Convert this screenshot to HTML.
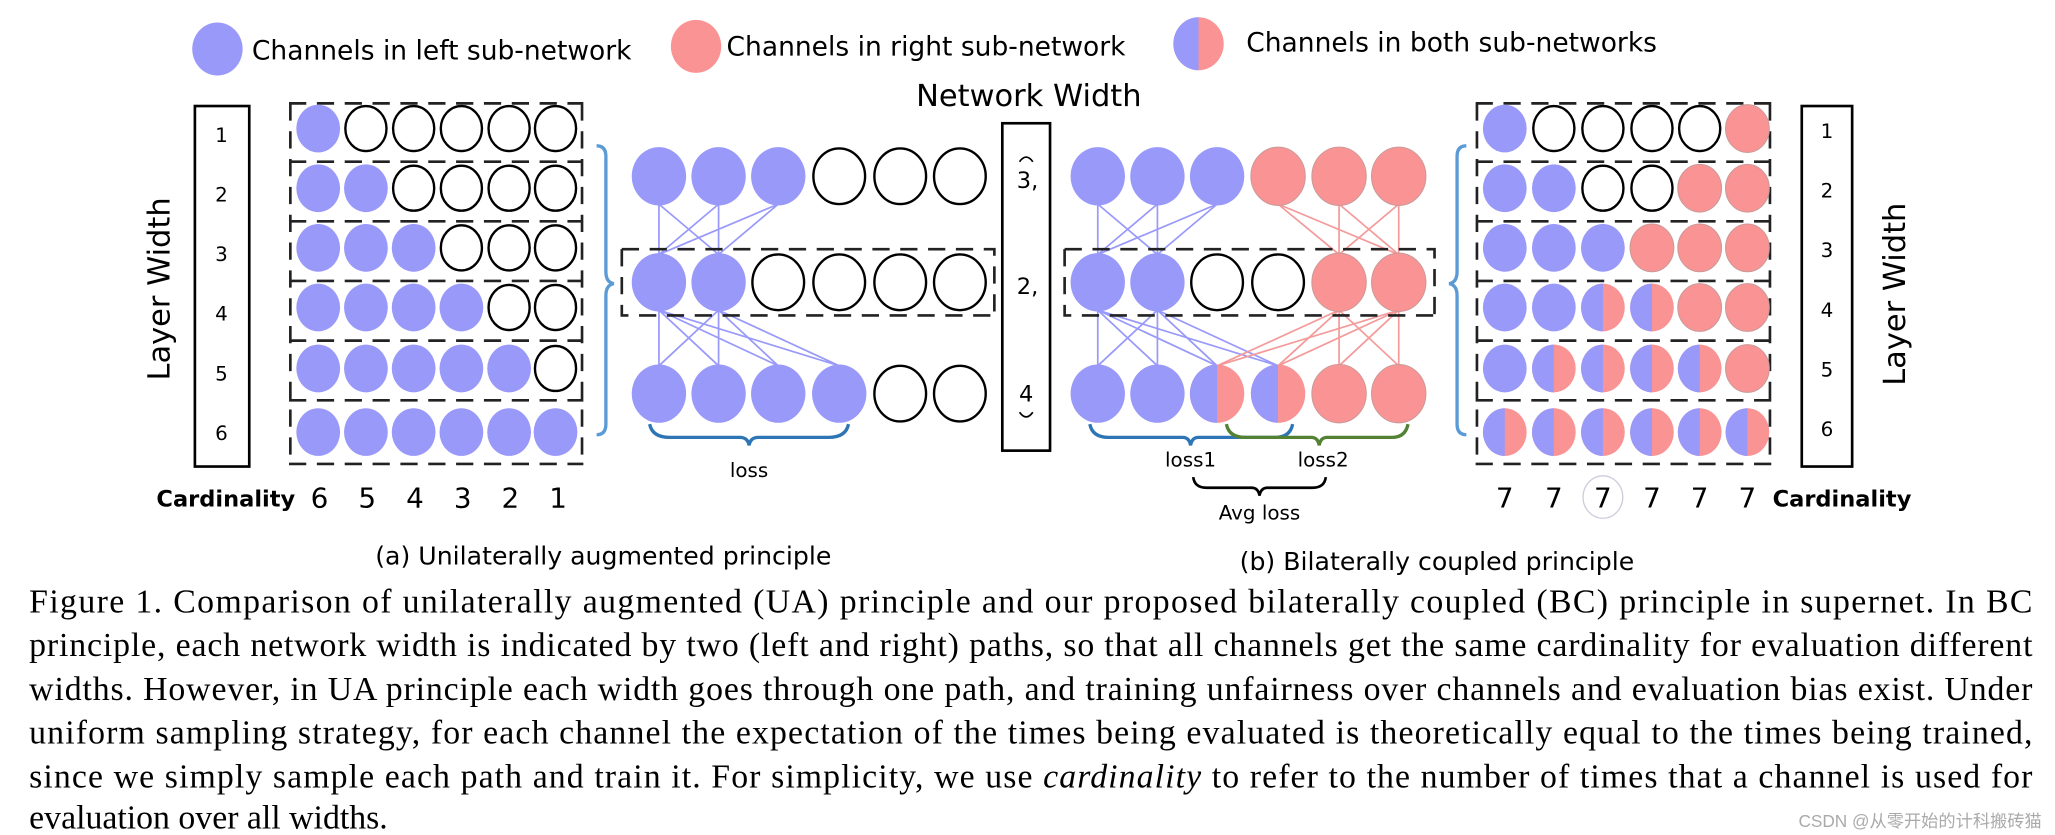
<!DOCTYPE html>
<html><head><meta charset="utf-8"><style>
html,body{margin:0;padding:0;background:#fff;}
svg{display:block;}
.s{font-family:"DejaVu Sans","Liberation Sans",sans-serif;}
.t{font-family:"Liberation Serif",serif;font-size:25.5px;fill:#000;}
</style></head><body>
<svg width="2055" height="835" viewBox="0 0 1550 630" preserveAspectRatio="none" xmlns="http://www.w3.org/2000/svg">
<defs>
<ellipse id="b" rx="16.5" ry="18" fill="#9999fa"/>
<ellipse id="p" rx="16.5" ry="18" fill="#fa9494" stroke="#c99" stroke-width="0.8"/>
<ellipse id="w" rx="15.5" ry="17" fill="#fff" stroke="#000" stroke-width="1.8"/>
<g id="h"><ellipse rx="16.5" ry="18" fill="#fa9494"/><path d="M0,-18 A16.5,18 0 0 0 0,18 Z" fill="#9999fa"/></g>
<ellipse id="B" rx="20.5" ry="22" fill="#9999fa"/>
<ellipse id="P" rx="20.5" ry="22" fill="#fa9494" stroke="#c99" stroke-width="0.8"/>
<ellipse id="W" rx="19.5" ry="21" fill="#fff" stroke="#000" stroke-width="1.8"/>
<g id="H"><ellipse rx="20.5" ry="22" fill="#fa9494"/><path d="M0,-22 A20.5,22 0 0 0 0,22 Z" fill="#9999fa"/></g>
</defs>

<ellipse cx="164" cy="37" rx="19" ry="20" fill="#9999fa"/>
<text class="s" x="190" y="45" font-size="20">Channels in left sub-network</text>
<ellipse cx="525" cy="35" rx="19" ry="20" fill="#fa9494"/>
<text class="s" x="548" y="42" font-size="20">Channels in right sub-network</text>
<ellipse cx="904" cy="33" rx="19" ry="20" fill="#fa9494"/>
<path d="M904,13 A19,20 0 0 0 904,53 Z" fill="#9999fa"/>
<text class="s" x="940" y="39" font-size="20">Channels in both sub-networks</text>
<text class="s" x="776" y="80" font-size="23" text-anchor="middle">Network Width</text>

<rect x="147" y="80" width="41" height="272" fill="none" stroke="#000" stroke-width="2"/>
<g class="s" font-size="15" text-anchor="middle">
<text x="167" y="107">1</text><text x="167" y="152">2</text><text x="167" y="197">3</text><text x="167" y="242">4</text><text x="167" y="287">5</text><text x="167" y="332">6</text>
</g>
<text class="s" font-size="23" transform="translate(128,218) rotate(-90)" text-anchor="middle">Layer Width</text>

<g fill="none" stroke="#222" stroke-width="2" stroke-dasharray="13 8">
<path d="M218,78 H440 M218,122 H440 M218,167 H440 M218,212 H440 M218,257 H440 M218,302 H440 M218,350 H440 M219,78 V350 M439,78 V350"/>
</g>
<g>
<use href="#b" x="240" y="97"/><use href="#w" x="276" y="97"/><use href="#w" x="312" y="97"/><use href="#w" x="348" y="97"/><use href="#w" x="384" y="97"/><use href="#w" x="419" y="97"/>
<use href="#b" x="240" y="142"/><use href="#b" x="276" y="142"/><use href="#w" x="312" y="142"/><use href="#w" x="348" y="142"/><use href="#w" x="384" y="142"/><use href="#w" x="419" y="142"/>
<use href="#b" x="240" y="187"/><use href="#b" x="276" y="187"/><use href="#b" x="312" y="187"/><use href="#w" x="348" y="187"/><use href="#w" x="384" y="187"/><use href="#w" x="419" y="187"/>
<use href="#b" x="240" y="232"/><use href="#b" x="276" y="232"/><use href="#b" x="312" y="232"/><use href="#b" x="348" y="232"/><use href="#w" x="384" y="232"/><use href="#w" x="419" y="232"/>
<use href="#b" x="240" y="278"/><use href="#b" x="276" y="278"/><use href="#b" x="312" y="278"/><use href="#b" x="348" y="278"/><use href="#b" x="384" y="278"/><use href="#w" x="419" y="278"/>
<use href="#b" x="240" y="326"/><use href="#b" x="276" y="326"/><use href="#b" x="312" y="326"/><use href="#b" x="348" y="326"/><use href="#b" x="384" y="326"/><use href="#b" x="419" y="326"/>
</g>
<path d="M450,110 Q457,110 457,118 V205 Q457,213 463,214 Q457,215 457,223 V320 Q457,328 450,328" fill="none" stroke="#5b9bd5" stroke-width="2.5"/>

<g stroke="#9999fa" stroke-width="1.3">
<line x1="497" y1="154" x2="497" y2="192"/><line x1="497" y1="154" x2="542" y2="192"/>
<line x1="542" y1="154" x2="497" y2="192"/><line x1="542" y1="154" x2="542" y2="192"/>
<line x1="587" y1="154" x2="497" y2="192"/><line x1="587" y1="154" x2="542" y2="192"/>
<line x1="497" y1="234" x2="497" y2="276"/><line x1="497" y1="234" x2="542" y2="276"/><line x1="497" y1="234" x2="587" y2="276"/><line x1="497" y1="234" x2="633" y2="276"/>
<line x1="542" y1="234" x2="497" y2="276"/><line x1="542" y1="234" x2="542" y2="276"/><line x1="542" y1="234" x2="587" y2="276"/><line x1="542" y1="234" x2="633" y2="276"/>
</g>
<g>
<use href="#B" x="497" y="133"/><use href="#B" x="542" y="133"/><use href="#B" x="587" y="133"/><use href="#W" x="633" y="133"/><use href="#W" x="679" y="133"/><use href="#W" x="724" y="133"/>
<use href="#B" x="497" y="213"/><use href="#B" x="542" y="213"/><use href="#W" x="587" y="213"/><use href="#W" x="633" y="213"/><use href="#W" x="679" y="213"/><use href="#W" x="724" y="213"/>
<use href="#B" x="497" y="297"/><use href="#B" x="542" y="297"/><use href="#B" x="587" y="297"/><use href="#B" x="633" y="297"/><use href="#W" x="679" y="297"/><use href="#W" x="724" y="297"/>
</g>
<path d="M469,188 H750 V238 M469,188 V238 H750" fill="none" stroke="#222" stroke-width="2" stroke-dasharray="13 8"/>
<path d="M490,320 Q492,330 505,330 H558 Q564,330 565,336 Q566,330 572,330 H625 Q638,330 640,320" fill="none" stroke="#2e75b6" stroke-width="2.5"/>
<text class="s" x="565" y="360" font-size="15" text-anchor="middle">loss</text>

<rect x="756" y="93" width="36" height="247" fill="none" stroke="#000" stroke-width="2"/>
<g class="s" font-size="17" text-anchor="middle">
<text x="775" y="142">3,</text><text x="775" y="222">2,</text><text x="774" y="303">4</text>
</g>
<path d="M769,122 Q774,115 779,122" fill="none" stroke="#000" stroke-width="1.3"/>
<path d="M769,311 Q774,318 779,311" fill="none" stroke="#000" stroke-width="1.3"/>

<g stroke="#9999fa" stroke-width="1.3">
<line x1="828" y1="154" x2="828" y2="192"/><line x1="828" y1="154" x2="873" y2="192"/>
<line x1="873" y1="154" x2="828" y2="192"/><line x1="873" y1="154" x2="873" y2="192"/>
<line x1="918" y1="154" x2="828" y2="192"/><line x1="918" y1="154" x2="873" y2="192"/>
<line x1="828" y1="234" x2="828" y2="276"/><line x1="828" y1="234" x2="873" y2="276"/><line x1="828" y1="234" x2="918" y2="276"/><line x1="828" y1="234" x2="964" y2="276"/>
<line x1="873" y1="234" x2="828" y2="276"/><line x1="873" y1="234" x2="873" y2="276"/><line x1="873" y1="234" x2="918" y2="276"/><line x1="873" y1="234" x2="964" y2="276"/>
</g>
<g stroke="#f49a9a" stroke-width="1.3">
<line x1="964" y1="154" x2="1010" y2="192"/><line x1="964" y1="154" x2="1055" y2="192"/>
<line x1="1010" y1="154" x2="1010" y2="192"/><line x1="1010" y1="154" x2="1055" y2="192"/>
<line x1="1055" y1="154" x2="1010" y2="192"/><line x1="1055" y1="154" x2="1055" y2="192"/>
<line x1="1010" y1="234" x2="918" y2="276"/><line x1="1010" y1="234" x2="964" y2="276"/><line x1="1010" y1="234" x2="1010" y2="276"/><line x1="1010" y1="234" x2="1055" y2="276"/>
<line x1="1055" y1="234" x2="918" y2="276"/><line x1="1055" y1="234" x2="964" y2="276"/><line x1="1055" y1="234" x2="1010" y2="276"/><line x1="1055" y1="234" x2="1055" y2="276"/>
</g>
<g>
<use href="#B" x="828" y="133"/><use href="#B" x="873" y="133"/><use href="#B" x="918" y="133"/><use href="#P" x="964" y="133"/><use href="#P" x="1010" y="133"/><use href="#P" x="1055" y="133"/>
<use href="#B" x="828" y="213"/><use href="#B" x="873" y="213"/><use href="#W" x="918" y="213"/><use href="#W" x="964" y="213"/><use href="#P" x="1010" y="213"/><use href="#P" x="1055" y="213"/>
<use href="#B" x="828" y="297"/><use href="#B" x="873" y="297"/><use href="#H" x="918" y="297"/><use href="#H" x="964" y="297"/><use href="#P" x="1010" y="297"/><use href="#P" x="1055" y="297"/>
</g>
<path d="M803,188 H1082 V238 M803,188 V238 H1082" fill="none" stroke="#222" stroke-width="2" stroke-dasharray="13 8"/>
<path d="M822,320 Q824,330 836,330 H892 Q897,330 898,336 Q899,330 904,330 H962 Q973,330 975,320" fill="none" stroke="#2e75b6" stroke-width="2.5"/>
<path d="M925,320 Q927,330 939,330 H989 Q994,330 995,336 Q996,330 1001,330 H1050 Q1060,330 1062,320" fill="none" stroke="#548235" stroke-width="2.5"/>
<text class="s" x="898" y="352" font-size="15" text-anchor="middle">loss1</text>
<text class="s" x="998" y="352" font-size="15" text-anchor="middle">loss2</text>
<path d="M900,360 Q901,368 910,368 H944 Q949,368 950,374 Q951,368 956,368 H990 Q999,368 1000,360" fill="none" stroke="#000" stroke-width="2"/>
<text class="s" x="950" y="392" font-size="15" text-anchor="middle">Avg loss</text>

<path d="M1106,110 Q1099,110 1099,118 V205 Q1099,213 1093,214 Q1099,215 1099,223 V320 Q1099,328 1106,328" fill="none" stroke="#5b9bd5" stroke-width="2.5"/>

<g fill="none" stroke="#222" stroke-width="2" stroke-dasharray="13 8">
<path d="M1113,78 H1336 M1113,122 H1336 M1113,167 H1336 M1113,212 H1336 M1113,257 H1336 M1113,302 H1336 M1113,350 H1336 M1114,78 V350 M1335,78 V350"/>
</g>
<g>
<use href="#b" x="1135" y="97"/><use href="#w" x="1172" y="97"/><use href="#w" x="1209" y="97"/><use href="#w" x="1246" y="97"/><use href="#w" x="1282" y="97"/><use href="#p" x="1318" y="97"/>
<use href="#b" x="1135" y="142"/><use href="#b" x="1172" y="142"/><use href="#w" x="1209" y="142"/><use href="#w" x="1246" y="142"/><use href="#p" x="1282" y="142"/><use href="#p" x="1318" y="142"/>
<use href="#b" x="1135" y="187"/><use href="#b" x="1172" y="187"/><use href="#b" x="1209" y="187"/><use href="#p" x="1246" y="187"/><use href="#p" x="1282" y="187"/><use href="#p" x="1318" y="187"/>
<use href="#b" x="1135" y="232"/><use href="#b" x="1172" y="232"/><use href="#h" x="1209" y="232"/><use href="#h" x="1246" y="232"/><use href="#p" x="1282" y="232"/><use href="#p" x="1318" y="232"/>
<use href="#b" x="1135" y="278"/><use href="#h" x="1172" y="278"/><use href="#h" x="1209" y="278"/><use href="#h" x="1246" y="278"/><use href="#h" x="1282" y="278"/><use href="#p" x="1318" y="278"/>
<use href="#h" x="1135" y="326"/><use href="#h" x="1172" y="326"/><use href="#h" x="1209" y="326"/><use href="#h" x="1246" y="326"/><use href="#h" x="1282" y="326"/><use href="#h" x="1318" y="326"/>
</g>
<rect x="1359" y="80" width="38" height="272" fill="none" stroke="#000" stroke-width="2"/>
<g class="s" font-size="15" text-anchor="middle">
<text x="1378" y="104">1</text><text x="1378" y="149">2</text><text x="1378" y="194">3</text><text x="1378" y="239">4</text><text x="1378" y="284">5</text><text x="1378" y="329">6</text>
</g>
<text class="s" font-size="23" transform="translate(1437,222) rotate(-90)" text-anchor="middle">Layer Width</text>

<text class="s" x="118" y="382" font-size="17" font-weight="bold">Cardinality</text>
<g class="s" font-size="21" text-anchor="middle">
<text x="241" y="383">6</text><text x="277" y="383">5</text><text x="313" y="383">4</text><text x="349" y="383">3</text><text x="385" y="383">2</text><text x="421" y="383">1</text>
<text x="1135" y="383">7</text><text x="1172" y="383">7</text><text x="1209" y="383">7</text><text x="1246" y="383">7</text><text x="1282" y="383">7</text><text x="1318" y="383">7</text>
</g>
<ellipse cx="1209" cy="375" rx="15" ry="16" fill="none" stroke="#ccd" stroke-width="1"/>
<text class="s" x="1337" y="382" font-size="17" font-weight="bold">Cardinality</text>

<text class="s" x="283" y="426" font-size="19">(a) Unilaterally augmented principle</text>
<text class="s" x="935" y="430" font-size="19">(b) Bilaterally coupled principle</text>

<text class="t" x="22" y="462" textLength="1511" lengthAdjust="spacing">Figure 1. Comparison of unilaterally augmented (UA) principle and our proposed bilaterally coupled (BC) principle in supernet.  In BC</text>
<text class="t" x="22" y="495" textLength="1511" lengthAdjust="spacing">principle, each network width is indicated by two (left and right) paths, so that all channels get the same cardinality for evaluation different</text>
<text class="t" x="22" y="528" textLength="1511" lengthAdjust="spacing">widths. However, in UA principle each width goes through one path, and training unfairness over channels and evaluation bias exist. Under</text>
<text class="t" x="22" y="561" textLength="1511" lengthAdjust="spacing">uniform sampling strategy, for each channel the expectation of the times being evaluated is theoretically equal to the times being trained,</text>
<text class="t" x="22" y="594" textLength="1511" lengthAdjust="spacing">since we simply sample each path and train it. For simplicity, we use <tspan font-style="italic">cardinality</tspan> to refer to the number of times that a channel is used for</text>
<text class="t" x="22" y="625">evaluation over all widths.</text>
<text x="1540" y="624" text-anchor="end" font-size="13" fill="#aaa" font-family="'Liberation Sans','Noto Sans CJK SC',sans-serif">CSDN @从零开始的计科搬砖猫</text>
</svg>
</body></html>
